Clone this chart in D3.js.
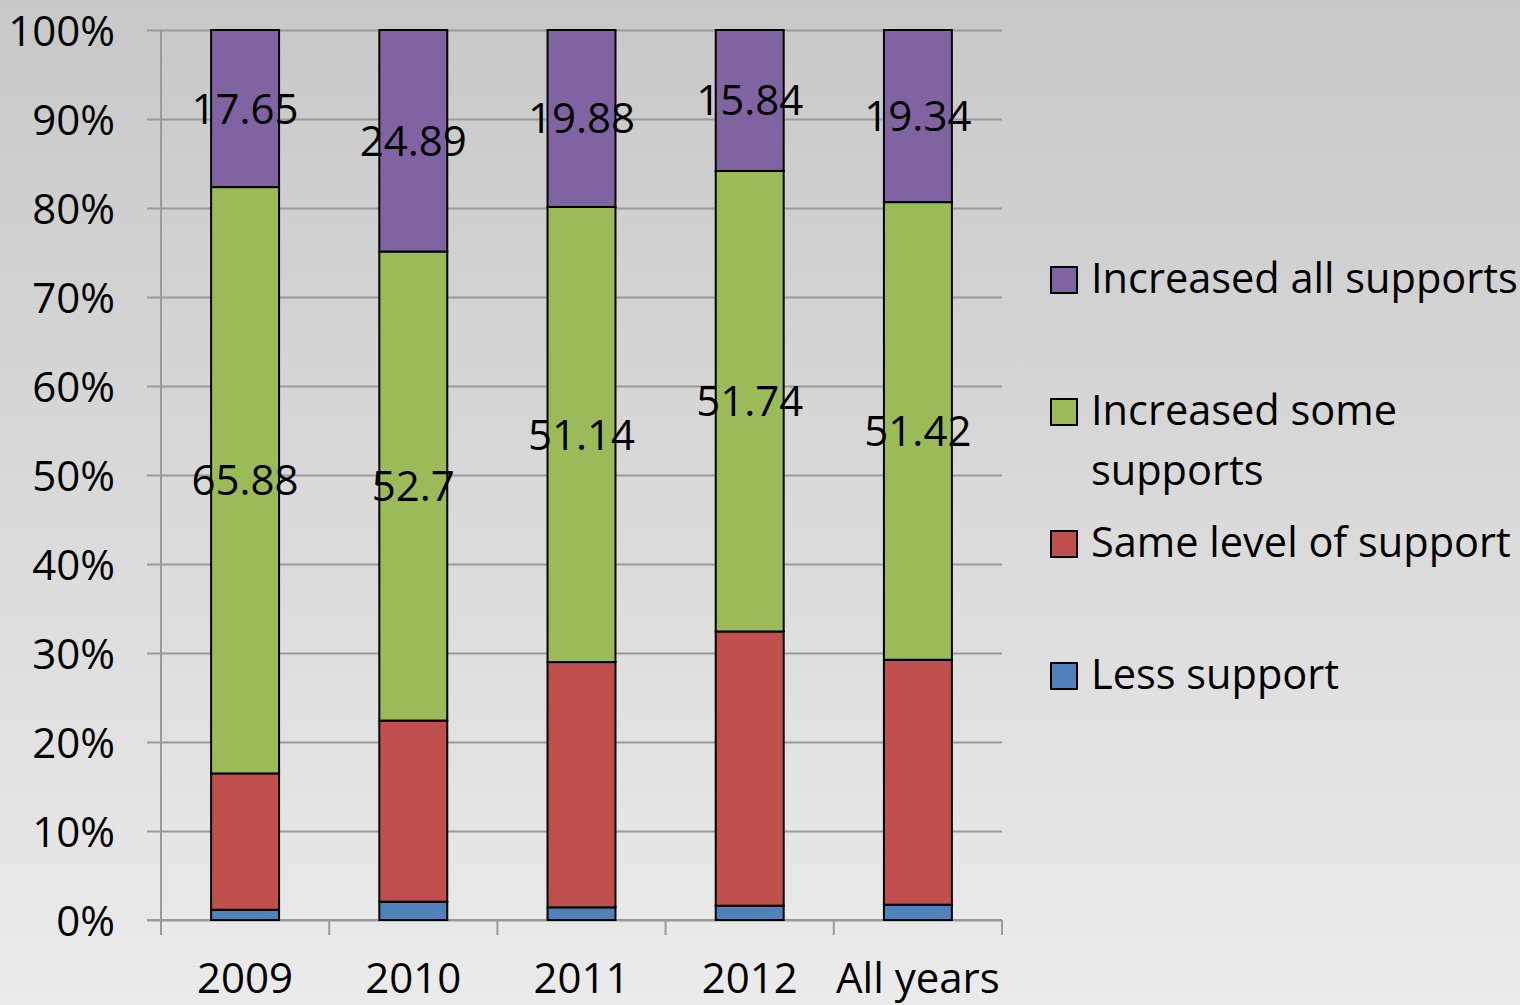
<!DOCTYPE html>
<html>
<head>
<meta charset="utf-8">
<script src="https://cdn.jsdelivr.net/npm/d3@7"></script>
<style>
  html, body { margin: 0; padding: 0; }
  svg { display: block; }
  text { font-family: "Open Sans", "Noto Sans", sans-serif; fill: #000; }
</style>
</head>
<body>
<svg id="chart" width="1520" height="1005"></svg>
<script>
const categories = ["2009", "2010", "2011", "2012", "All years"];
const seriesNames = ["Less support", "Same level of support", "Increased some supports", "Increased all supports"];
const lessSupport = [1.15, 2.06, 1.42, 1.61, 1.72];
const sameLevel = [15.32, 20.35, 27.56, 30.81, 27.52];
const increasedSome = [65.88, 52.7, 51.14, 51.74, 51.42];
const increasedAll = [17.65, 24.89, 19.88, 15.84, 19.34];
const yTicks = [0, 10, 20, 30, 40, 50, 60, 70, 80, 90, 100];
const labelledSeries = ["Increased some supports", "Increased all supports"];
const colors = ["#4F81BD", "#C0504D", "#9BBB59", "#8064A2"];

const svg = d3.select("#chart");
const W = 1520, H = 1005;

const defs = svg.append("defs");
const grad = defs.append("linearGradient").attr("id", "bg").attr("x1", 0).attr("y1", 0).attr("x2", 0).attr("y2", 1);
grad.append("stop").attr("offset", "0%").attr("stop-color", "#c8c8c8");
grad.append("stop").attr("offset", "100%").attr("stop-color", "#ebebeb");
svg.append("rect").attr("width", W).attr("height", H).attr("fill", "url(#bg)");

const pLeft = 161, pRight = 1002, pTop = 30, pBottom = 920;
const x = d3.scaleBand().domain(categories).range([pLeft, pRight]).paddingInner(0.596).paddingOuter(0.298);
const y = d3.scaleLinear().domain([0, 100]).range([pBottom, pTop]);

const rows = categories.map((c, i) => ({
  cat: c,
  "Less support": lessSupport[i],
  "Same level of support": sameLevel[i],
  "Increased some supports": increasedSome[i],
  "Increased all supports": increasedAll[i]
}));
const stacked = d3.stack().keys(seriesNames)(rows);

const gridColor = "#9a9a9a";
const yAxis = d3.axisLeft(y).tickValues(yTicks).tickSize(-(pRight - pLeft)).tickFormat(d => d + "%");
const gy = svg.append("g").attr("transform", `translate(${pLeft},0)`).call(yAxis);
gy.select(".domain").remove();
gy.selectAll(".tick line").attr("stroke", gridColor).attr("stroke-width", 2).attr("x1", -14);
gy.selectAll(".tick text").attr("x", -46).attr("dy", null).attr("y", 15)
  .style("font-size", "42px").style("font-family", "'Open Sans', sans-serif").attr("fill", "#000");

svg.append("line").attr("x1", pLeft).attr("x2", pLeft).attr("y1", pTop).attr("y2", pBottom + 15)
  .attr("stroke", gridColor).attr("stroke-width", 2);

svg.append("line").attr("x1", pLeft - 14).attr("x2", pRight).attr("y1", pBottom).attr("y2", pBottom)
  .attr("stroke", gridColor).attr("stroke-width", 2);
const bounds = d3.range(categories.length + 1).map(i => pLeft + i * x.step());
svg.append("g").selectAll("line").data(bounds).join("line")
  .attr("x1", d => d).attr("x2", d => d).attr("y1", pBottom).attr("y2", pBottom + 15)
  .attr("stroke", gridColor).attr("stroke-width", 2);
svg.append("g").selectAll("text").data(categories).join("text")
  .attr("x", d => x(d) + x.bandwidth() / 2).attr("y", 993)
  .attr("text-anchor", "middle").style("font-size", "42px").text(d => d);

const layers = svg.append("g").selectAll("g").data(stacked).join("g")
  .attr("fill", (d, i) => colors[i]);
layers.selectAll("rect").data(d => d).join("rect")
  .attr("x", d => x(d.data.cat))
  .attr("width", x.bandwidth())
  .attr("y", d => y(d[1]))
  .attr("height", d => y(d[0]) - y(d[1]))
  .attr("stroke", "#000").attr("stroke-width", 2);

stacked.filter(s => labelledSeries.includes(s.key)).forEach(s => {
  svg.append("g").selectAll("text").data(s).join("text")
    .attr("x", d => x(d.data.cat) + x.bandwidth() / 2)
    .attr("y", d => (y(d[0]) + y(d[1])) / 2 + 15)
    .attr("text-anchor", "middle").style("font-size", "42px")
    .text(d => d.data[s.key]);
});

const legendItems = [
  { lines: ["Increased all supports"], color: colors[3], y: 267 },
  { lines: ["Increased some", "supports"], color: colors[2], y: 399 },
  { lines: ["Same level of support"], color: colors[1], y: 531 },
  { lines: ["Less support"], color: colors[0], y: 663 }
];
const lg = svg.append("g").selectAll("g").data(legendItems).join("g");
lg.append("rect").attr("x", 1051).attr("y", d => d.y).attr("width", 26).attr("height", 26)
  .attr("fill", d => d.color).attr("stroke", "#000").attr("stroke-width", 2);
lg.each(function(d) {
  const t = d3.select(this).append("text").attr("x", 1091).attr("y", d.y + 26).style("font-size", "41.5px");
  d.lines.forEach((l, i) => t.append("tspan").attr("x", 1091).attr("dy", i === 0 ? 0 : 60).text(l));
});
</script>
</body>
</html>
